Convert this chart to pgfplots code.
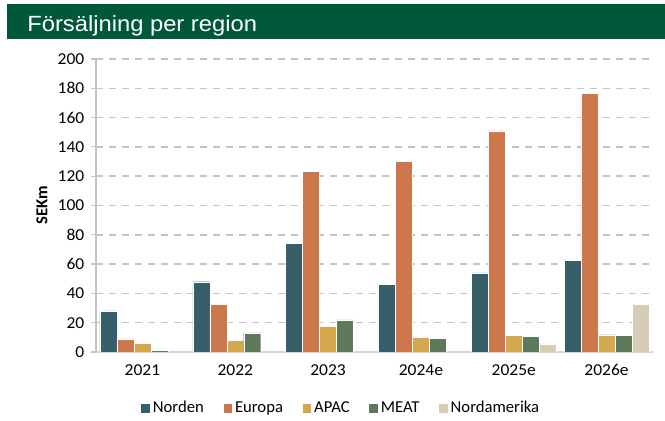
\documentclass[border=0pt]{standalone}
\usepackage{pgfplots}
\pgfplotsset{compat=1.18}
\usepackage{fontspec}
\setmainfont{Carlito}
\newfontfamily\titlefont{Liberation Sans}

\definecolor{banner}{HTML}{00583B}
\definecolor{cNorden}{HTML}{365F69}
\definecolor{cEuropa}{HTML}{CC774C}
\definecolor{cAPAC}{HTML}{D4A84F}
\definecolor{cMEAT}{HTML}{5E7A5B}
\definecolor{cNordam}{HTML}{D6CDB4}
\definecolor{gridgray}{HTML}{C4C4C4}

\begin{document}
\begin{tikzpicture}
  % page frame: 665 x 421 px, 1px = 0.75pt, axis box origin at px (96,352)
  \path[use as bounding box] (-72pt,-51.75pt) rectangle (426.75pt,264pt);
  \fill[banner] (-66.75pt,234.75pt) rectangle (426.75pt,261pt);
  \node[anchor=base west, inner sep=0pt, text=white, xscale=1.08,
        font=\titlefont\fontsize{16.5}{18}\selectfont] at (-51.75pt,240pt) {Försäljning per region};

  \begin{axis}[
    at={(0,0)}, anchor=south west,
    scale only axis,
    width=417.75pt, height=219.75pt,
    xmin=-0.5, xmax=5.5,
    ymin=0, ymax=200,
    ytick={0,20,...,200},
    xtick={0,1,2,3,4,5},
    xticklabels={2021,2022,2023,2024e,2025e,2026e},
    axis x line*=bottom,
    axis y line*=left,
    x axis line style={draw=gridgray!70, line width=1.1pt, -},
    y axis line style={draw=gridgray, line width=0.9pt, -},
    x tick style={draw=none},
    y tick style={draw=gridgray, line width=0.9pt},
    tick align=outside,
    major tick length=4pt,
    ymajorgrids=true,
    grid style={draw=gridgray, line width=1.1pt, dash pattern=on 5.25pt off 4.5pt},
    /pgf/number format/assume math mode=true,
    tick label style={font=\fontsize{12.5}{14}\selectfont, xscale=1.05},
    yticklabel style={xshift=-1pt},
    xticklabel style={yshift=-2pt},
    ylabel={\textbf{SEKm}},
    ylabel style={at={(axis description cs:-0.097,0.5)}, anchor=center,
                  font=\fontsize{12.5}{14}\selectfont},
    ybar=0pt,
    bar width=0.183,
    every axis plot/.append style={draw=white, line width=0.2pt},
    legend columns=5,
    legend style={at={(axis description cs:0.44,-0.191)}, anchor=center,
                  draw=none, fill=none,
                  font=\fontsize{12.5}{14}\selectfont,
                  /tikz/every even column/.append style={column sep=12pt}},
    legend cell align=left,
    legend image code/.code={\fill[#1] (0pt,-3.6pt) rectangle (7.2pt,3.6pt);},
  ]
  \addplot[fill=cNorden] coordinates {(0,28) (1,48) (2,74) (3,46) (4,54) (5,62.5)};
  \addlegendentry{Norden}
  \addplot[fill=cEuropa] coordinates {(0,9) (1,32.5) (2,123.5) (3,130) (4,151) (5,176.5)};
  \addlegendentry{Europa}
  \addplot[fill=cAPAC] coordinates {(0,6.2) (1,8) (2,17.5) (3,10) (4,11.3) (5,11.8)};
  \addlegendentry{APAC}
  \addplot[fill=cMEAT] coordinates {(0,1) (1,13) (2,22) (3,9.5) (4,10.8) (5,11.5)};
  \addlegendentry{MEAT}
  \addplot[fill=cNordam] coordinates {(4,5.5) (5,32.5)};
  \addlegendentry{Nordamerika}
  \end{axis}
\end{tikzpicture}
\end{document}
